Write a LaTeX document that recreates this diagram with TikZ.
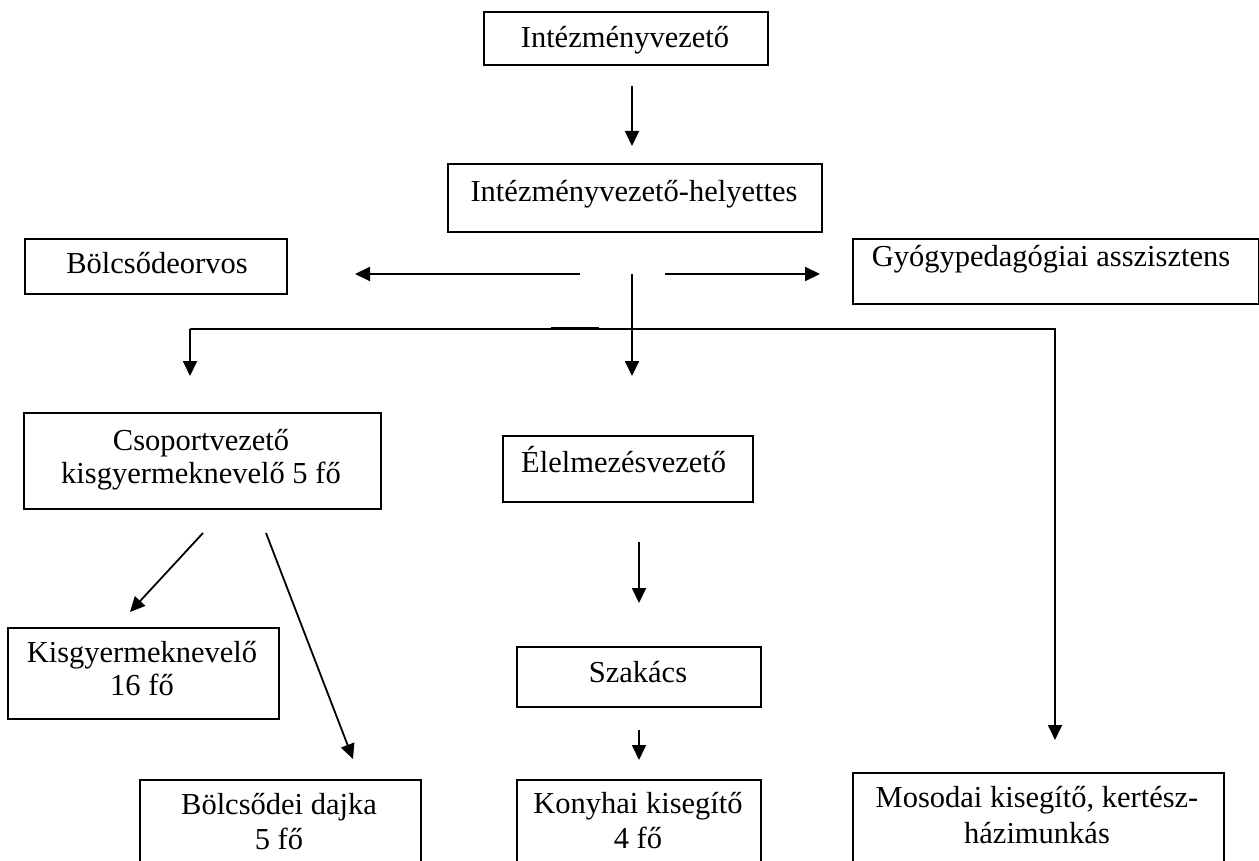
\documentclass[tikz,border=0pt]{standalone}
\usepackage{fontspec}
\setmainfont{Liberation Serif}
\usetikzlibrary{arrows.meta}
\begin{document}
\begin{tikzpicture}[x=1pt,y=-1pt,
 box/.style={draw, line width=1.8pt, inner sep=0pt, anchor=north west},
 txt/.style={font=\fontsize{30.5}{35}\selectfont, inner sep=0pt, anchor=base},
 arr/.style={line width=1.8pt, -{Triangle[length=15pt,width=14pt]}},
 ln/.style={line width=1.8pt}]
\useasboundingbox (0,0) rectangle (1259,861);
% boxes
\node[box, minimum width=284pt, minimum height=53pt] (vez) at (483,11) {};
\node[txt] (tvez) at (625,48) {Intézményvezető};
\node[box, minimum width=374pt, minimum height=68pt] (hely) at (447,163) {};
\node[txt] (thely) at (634,202) {Intézményvezető-helyettes};
\node[box, minimum width=262pt, minimum height=55pt] (orvos) at (24,238) {};
\node[txt] (torvos) at (157,274) {Bölcsődeorvos};
\node[box, minimum width=406pt, minimum height=65pt] (gyogy) at (852,238) {};
\node[txt] (tgyogy) at (1051,266) {Gyógypedagógiai asszisztens};
\node[box, minimum width=357pt, minimum height=96pt] (csop) at (23,412) {};
\node[txt] (tcsop1) at (201,450) {Csoportvezető};
\node[txt] (tcsop2) at (201,483) {kisgyermeknevelő 5 fő};
\node[box, minimum width=271pt, minimum height=91pt] (kisgy) at (7,627) {};
\node[txt] (tkisgy1) at (142,662) {Kisgyermeknevelő};
\node[txt] (tkisgy2) at (142,695) {16 fő};
\node[box, minimum width=281pt, minimum height=120pt] (dajka) at (139,779) {};
\node[txt] (tdajka1) at (279,814) {Bölcsődei dajka};
\node[txt] (tdajka2) at (279,849) {5 fő};
\node[box, minimum width=250pt, minimum height=66pt] (elelm) at (502,435) {};
\node[txt, anchor=base west] (telelm) at (521,472) {Élelmezésvezető};
\node[box, minimum width=244pt, minimum height=60pt] (szak) at (516,646) {};
\node[txt] (tszak) at (638,682) {Szakács};
\node[box, minimum width=244pt, minimum height=120pt] (kony) at (516,779) {};
\node[txt] (tkony1) at (638,813) {Konyhai kisegítő};
\node[txt] (tkony2) at (638,848) {4 fő};
\node[box, minimum width=371pt, minimum height=120pt] (mos) at (852,772) {};
\node[txt] (tmos1) at (1037,807) {Mosodai kisegítő, kertész-};
\node[txt] (tmos2) at (1037,843) {házimunkás};
% connector points
\coordinate (a1s) at (632,86);  \coordinate (a1e) at (632,146);
\coordinate (ls) at (580,274);  \coordinate (le) at (355,274);
\coordinate (rs) at (665,274);  \coordinate (re) at (820,274);
\coordinate (j) at (632,274);   \coordinate (je) at (632,376);
\coordinate (hl) at (190,329);  \coordinate (hle) at (190,376);
\coordinate (hr) at (1055,329); \coordinate (hre) at (1055,740);
\coordinate (s1) at (551,328);  \coordinate (s2) at (599,328);
\coordinate (d1s) at (203,533); \coordinate (d1e) at (130,612);
\coordinate (d2s) at (266,533); \coordinate (d2e) at (353,759);
\coordinate (e1s) at (639,542); \coordinate (e1e) at (639,603);
\coordinate (e2s) at (639,730); \coordinate (e2e) at (639,760);
% connectors
\draw[arr] (a1s) -- (a1e);
\draw[arr] (ls) -- (le);
\draw[arr] (rs) -- (re);
\draw[arr] (j) -- (je);
\draw[arr] (hl) -- (hle);
\draw[arr] (hl) -- (hr) -- (hre);
\draw[line width=2.2pt] (s1) -- (s2);
\draw[arr] (d1s) -- (d1e);
\draw[arr] (d2s) -- (d2e);
\draw[arr] (e1s) -- (e1e);
\draw[arr] (e2s) -- (e2e);
\end{tikzpicture}
\end{document}
